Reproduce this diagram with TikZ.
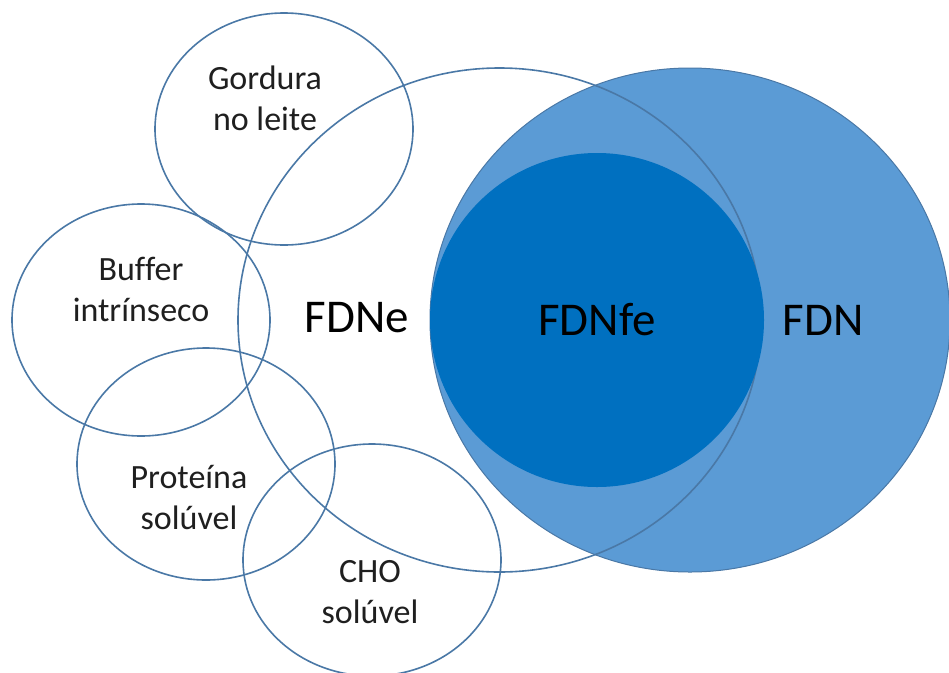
\documentclass[tikz,border=0pt]{standalone}
\usepackage{fontspec}
\setmainfont{Carlito}[Ligatures=NoCommon]
\usetikzlibrary{shapes.geometric, positioning}
\definecolor{fdnblue}{HTML}{5B9BD5}
\definecolor{fdnfeblue}{HTML}{0070C0}
\definecolor{rimblue}{HTML}{4A78A6}
\tikzset{
  venn/.style={
    ellipse, draw=rimblue, line width=1.6pt, inner sep=0pt,
    minimum width=258pt, minimum height=232pt
  },
  blob/.style={
    ellipse, fill=#1, inner sep=0pt
  },
  lbl/.style={
    align=center, text=black!88, inner sep=0pt,
    font=\fontsize{34}{41}\selectfont
  },
  biglbl/.style={
    text=black, inner sep=0pt,
    font=\fontsize{47}{55}\selectfont
  }
}

\begin{document}
\begin{tikzpicture}[x=1pt, y=-1pt]
  \useasboundingbox (0,0) rectangle (949,672);
  % fibra: FDN, FDNe, FDNfe
  \node[blob=fdnblue, draw=rimblue, line width=1pt,
        minimum width=520pt, minimum height=504pt] (fdn) at (690,320) {};
  \node[venn, minimum width=523pt, minimum height=504pt] (fdne) at (499.5,320) {};
  \node[blob=fdnfeblue, minimum width=334pt, minimum height=334pt] (fdnfe) at (597,320) {};
  % fatores
  \node[venn] (gordura) at (284,129) {};
  \node[venn] (buffer) at (141,320) {};
  \node[venn] (proteina) at (206,464) {};
  \node[venn] (cho) at (372,560) {};
  % textos
  \node[lbl] (tgordura) at (265,98) {Gordura\\no leite};
  \node[lbl] (tbuffer) at (141,289) {Buffer\\intrínseco};
  \node[lbl] (tproteina) at (189,498) {Proteína\\solúvel};
  \node[lbl] (tcho) at (370,592) {CHO\\solúvel};
  \node[biglbl] (tfdne) at (357,318) {FDNe};
  \node[biglbl] (tfdnfe) at (597,320) {FDNfe};
  \node[biglbl] (tfdn) at (823,320) {FDN};
\end{tikzpicture}
\end{document}
